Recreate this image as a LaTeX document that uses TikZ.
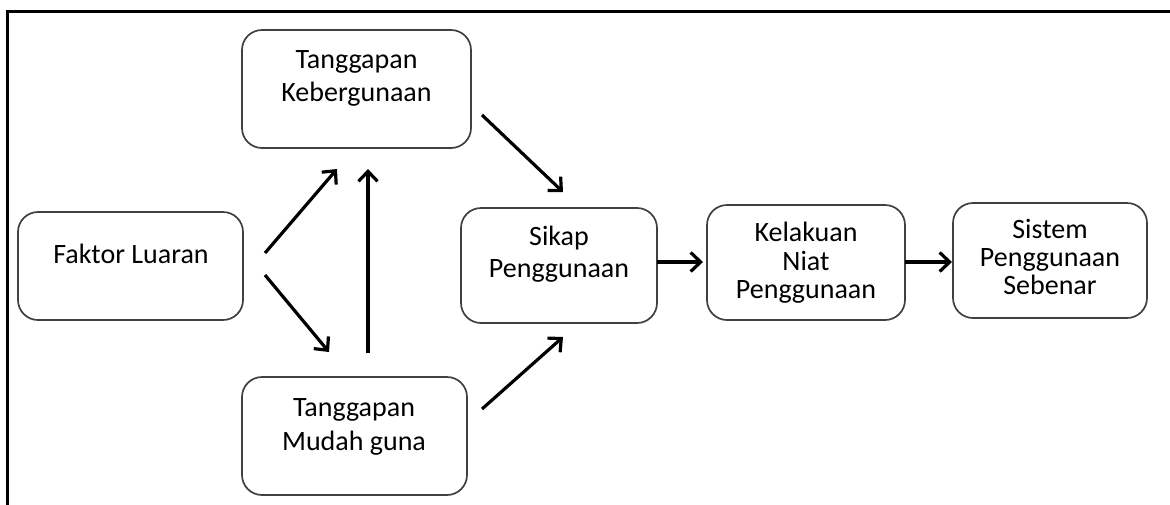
\documentclass[tikz,border=0pt]{standalone}
\usepackage{fontspec}
\setmainfont{Carlito}
\usetikzlibrary{arrows.meta}
\begin{document}
\begin{tikzpicture}[x=1pt,y=-1pt,
  box/.style={draw=black!75, line width=1.7pt, rounded corners=20pt, inner sep=0pt},
  lbl/.style={anchor=base, inner sep=0pt, font=\fontsize{28}{30}\selectfont},
  arr/.style={line width=3.2pt, -{Straight Barb[length=10pt,width=19pt,line width=3.2pt]}}]
\useasboundingbox (0,0) rectangle (1170,504);
% frame
\coordinate (fbl) at (7,505);
\coordinate (ftl) at (7,11);
\coordinate (ftr) at (1172,11);
\draw[line width=3pt] (fbl) -- (ftl) -- (ftr);
% boxes
\node[box, minimum width=225pt, minimum height=108pt] (fl) at (130.5,266) {};
\node[box, minimum width=229pt, minimum height=118pt] (tk) at (356.5,89) {};
\node[box, minimum width=225pt, minimum height=118pt] (tm) at (354.5,436) {};
\node[box, minimum width=196pt, minimum height=115pt] (sp) at (559,265.5) {};
\node[box, minimum width=198pt, minimum height=115pt] (kn) at (806,262.5) {};
\node[box, minimum width=194pt, minimum height=115pt] (ss) at (1050,260.5) {};
% labels
\node[lbl] (fl1) at (131,263.3) {Faktor Luaran};
\node[lbl] (tk1) at (356.5,68.3) {Tanggapan};
\node[lbl] (tk2) at (356.5,101) {Kebergunaan};
\node[lbl] (tm1) at (354,416.7) {Tanggapan};
\node[lbl] (tm2) at (354,450) {Mudah guna};
\node[lbl] (sp1) at (559,245) {Sikap};
\node[lbl] (sp2) at (559,277.3) {Penggunaan};
\node[lbl] (kn1) at (806,241.7) {Kelakuan};
\node[lbl] (kn2) at (806,270) {Niat};
\node[lbl] (kn3) at (806,298) {Penggunaan};
\node[lbl] (ss1) at (1050,238) {Sistem};
\node[lbl] (ss2) at (1050,266.7) {Penggunaan};
\node[lbl] (ss3) at (1050,294) {Sebenar};
% arrow end points
\coordinate (a1s) at (265,253); \coordinate (a1e) at (337,169);
\coordinate (a2s) at (265,275); \coordinate (a2e) at (329,352);
\coordinate (a3s) at (368,353); \coordinate (a3e) at (368,169);
\coordinate (a4s) at (482,115); \coordinate (a4e) at (563,192);
\coordinate (a5s) at (482,409); \coordinate (a5e) at (563,337);
\coordinate (a6s) at (657,262); \coordinate (a6e) at (703,262);
\coordinate (a7s) at (905,262); \coordinate (a7e) at (952,262);
\draw[arr] (a1s) -- (a1e);
\draw[arr] (a2s) -- (a2e);
\draw[arr] (a3s) -- (a3e);
\draw[arr] (a4s) -- (a4e);
\draw[arr] (a5s) -- (a5e);
\draw[arr] (a6s) -- (a6e);
\draw[arr] (a7s) -- (a7e);
\end{tikzpicture}
\end{document}
